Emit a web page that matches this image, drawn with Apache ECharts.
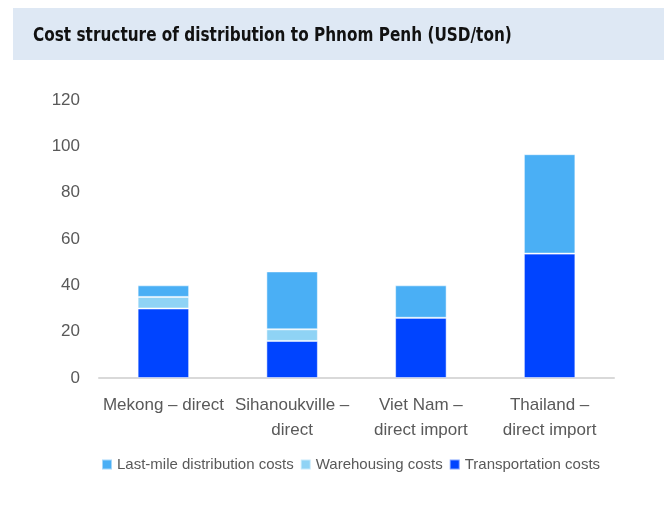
<!DOCTYPE html>
<html lang="en">
<head>
    <meta charset="UTF-8">
    <title>Cost structure of distribution to Phnom Penh</title>
    <script src="https://cdn.jsdelivr.net/npm/echarts@6/dist/echarts.min.js"></script>
    <style>
        html, body { margin: 0; padding: 0; background: #fff; }
        #main { width: 664px; height: 518px; }
    </style>
</head>
<body>
<div id="main"></div>
<script>
    var categories = ['Mekong – direct', 'Sihanoukville –\ndirect', 'Viet Nam –\ndirect import', 'Thailand –\ndirect import'];
    var transportation = [30, 16, 26, 53.7];
    var warehousing = [5, 5, 0, 0];
    var lastMile = [5, 25, 14, 42.9];
    var yTicks = [0, 20, 40, 60, 80, 100, 120];

    var chart = echarts.init(document.getElementById('main'));

    var barBorder = { borderColor: 'rgba(255,255,255,0.5)', borderWidth: 1 };

    var option = {
        animation: false,
        graphic: [{
            type: 'rect',
            shape: { x: 13, y: 8, width: 651, height: 52 },
            style: { fill: '#dee8f4' }
        }, {
            // title font in the original is a narrow bold face, squeeze it
            type: 'text',
            x: 33,
            y: 36,
            scaleX: 0.85,
            style: {
                text: 'Cost structure of distribution to Phnom Penh (USD/ton)',
                font: 'bold 20px "DejaVu Sans Condensed", sans-serif',
                fill: '#111',
                verticalAlign: 'middle'
            }
        }],
        grid: { left: 99, right: 50, top: 100, bottom: 140 },
        legend: {
            bottom: 41,
            left: 96,
            itemWidth: 10,
            itemHeight: 10,
            itemGap: 6,
            icon: 'rect',
            textStyle: { color: '#595959', fontSize: 15, fontFamily: 'Liberation Sans' },
            data: ['Last-mile distribution costs', 'Warehousing costs', 'Transportation costs']
        },
        xAxis: {
            type: 'category',
            data: categories,
            axisTick: { show: false },
            axisLine: { lineStyle: { color: '#d9d9d9', width: 2 } },
            axisLabel: {
                color: '#595959',
                fontSize: 17,
                fontFamily: 'Liberation Sans',
                lineHeight: 25,
                margin: 15,
                interval: 0
            }
        },
        yAxis: {
            type: 'value',
            min: yTicks[0],
            max: yTicks[yTicks.length - 1],
            interval: 20,
            splitLine: { show: false },
            axisLine: { show: false },
            axisLabel: { color: '#595959', fontSize: 17, fontFamily: 'Liberation Sans', margin: 19 }
        },
        series: [{
            name: 'Transportation costs',
            type: 'bar',
            stack: 'cost',
            barWidth: '40%',
            itemStyle: Object.assign({ color: '#0044ff' }, barBorder),
            data: transportation
        }, {
            name: 'Warehousing costs',
            type: 'bar',
            stack: 'cost',
            itemStyle: Object.assign({ color: '#8fd3f5' }, barBorder),
            data: warehousing
        }, {
            name: 'Last-mile distribution costs',
            type: 'bar',
            stack: 'cost',
            itemStyle: Object.assign({ color: '#4aaff5' }, barBorder),
            data: lastMile
        }]
    };

    chart.setOption(option);
</script>
</body>
</html>
